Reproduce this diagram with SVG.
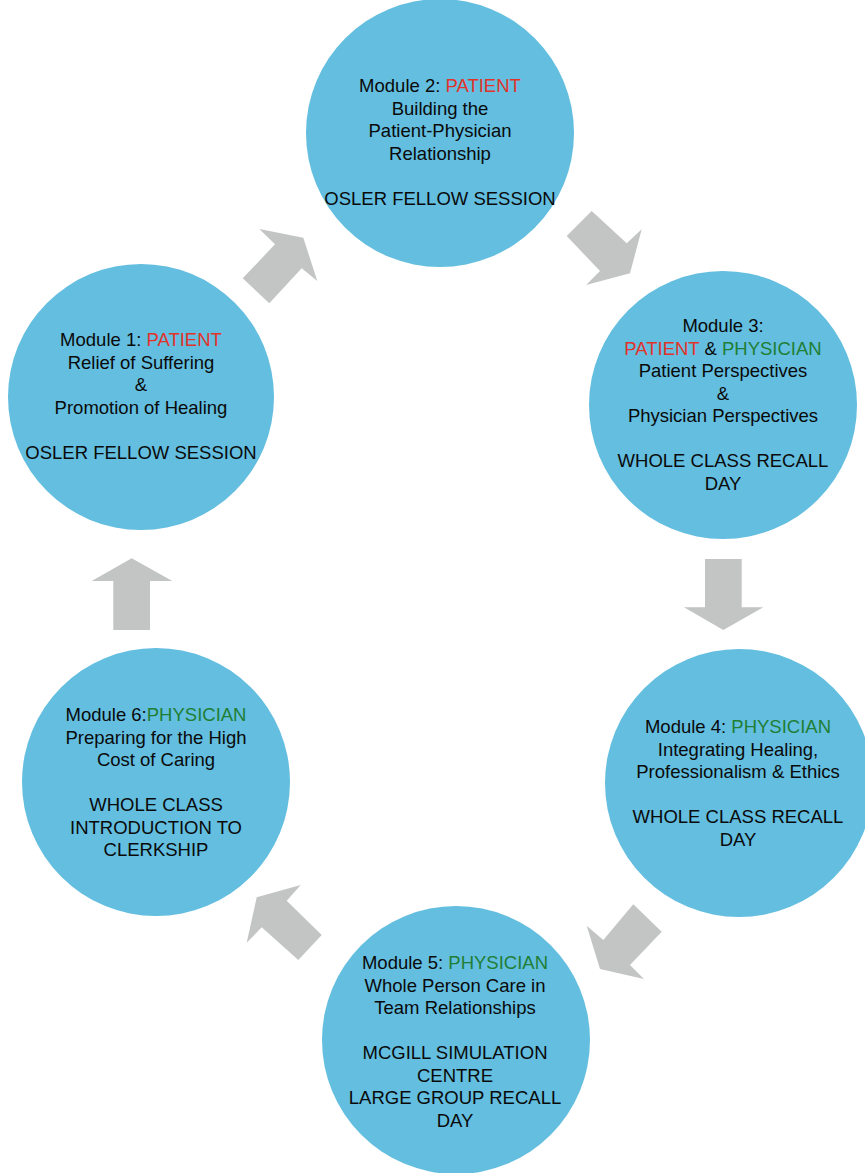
<svg xmlns="http://www.w3.org/2000/svg" width="865" height="1173" viewBox="0 0 865 1173">
  <style>
    .bubble { fill: #63BEE0; }
    .arrow { fill: #C3C4C4; }
    text { font-family: "Liberation Sans", Arial, Helvetica, sans-serif; font-size: 18.5px; fill: #0A0A0A; text-anchor: middle; }
    .patient { fill: #E2332B; }
    .physician { fill: #217E35; }
  </style>
  <rect width="865" height="1173" fill="#FFFFFF"/>

  <!-- cycle arrows -->
  <g id="connectors">
    <polygon class="arrow" points="259.3,229 303.3,237.7 317.3,281 301.7,268.3 269.3,303.3 242.7,278.3 275,244.3"/>
    <polygon class="arrow" points="591.7,211 626.7,243.3 641.7,229.3 630,273.3 586,285 600,271 566.7,236"/>
    <polygon class="arrow" points="705,559 741.7,559 741.7,607.3 763.3,607.3 723.3,630 684,607.3 705,607.3"/>
    <polygon class="arrow" points="633.3,904.3 661.7,931.7 630,965 644,979 600,969 586.7,925.7 603.3,940"/>
    <polygon class="arrow" points="300.7,885 286.7,900.7 321.7,935 298.3,960 261.7,927.3 246.7,942.7 256.7,897.3"/>
    <polygon class="arrow" points="131.7,558.3 172.3,581 150,581 150,630 113.3,630 113.3,581 91.7,581"/>
  </g>

  <g id="module1">
    <circle class="bubble" cx="141" cy="397" r="133"/>
    <text x="141" y="346">Module 1: <tspan class="patient">PATIENT</tspan></text>
    <text x="141" y="368.5">Relief of Suffering</text>
    <text x="141" y="391">&amp;</text>
    <text x="141" y="413.5">Promotion of Healing</text>
    <text x="141" y="458.5">OSLER FELLOW SESSION</text>
  </g>

  <g id="module2">
    <circle class="bubble" cx="440" cy="133" r="134"/>
    <text x="440" y="92">Module 2: <tspan class="patient">PATIENT</tspan></text>
    <text x="440" y="114.5">Building the</text>
    <text x="440" y="137">Patient-Physician</text>
    <text x="440" y="159.5">Relationship</text>
    <text x="440" y="204.5">OSLER FELLOW SESSION</text>
  </g>

  <g id="module3">
    <circle class="bubble" cx="723" cy="405" r="134"/>
    <text x="723" y="332">Module 3:</text>
    <text x="723" y="354.5"><tspan class="patient">PATIENT</tspan> &amp; <tspan class="physician">PHYSICIAN</tspan></text>
    <text x="723" y="377">Patient Perspectives</text>
    <text x="723" y="399.5">&amp;</text>
    <text x="723" y="422">Physician Perspectives</text>
    <text x="723" y="467">WHOLE CLASS RECALL</text>
    <text x="723" y="489.5">DAY</text>
  </g>

  <g id="module4">
    <circle class="bubble" cx="739" cy="783" r="134"/>
    <text x="738" y="733">Module 4: <tspan class="physician">PHYSICIAN</tspan></text>
    <text x="738" y="755.5">Integrating Healing,</text>
    <text x="738" y="778">Professionalism &amp; Ethics</text>
    <text x="738" y="823">WHOLE CLASS RECALL</text>
    <text x="738" y="845.5">DAY</text>
  </g>

  <g id="module5">
    <circle class="bubble" cx="456" cy="1040" r="134"/>
    <text x="455" y="969">Module 5: <tspan class="physician">PHYSICIAN</tspan></text>
    <text x="455" y="991.5">Whole Person Care in</text>
    <text x="455" y="1014">Team Relationships</text>
    <text x="455" y="1059">MCGILL SIMULATION</text>
    <text x="455" y="1081.5">CENTRE</text>
    <text x="455" y="1104">LARGE GROUP RECALL</text>
    <text x="455" y="1126.5">DAY</text>
  </g>

  <g id="module6">
    <circle class="bubble" cx="156" cy="782" r="134"/>
    <text x="156" y="721">Module 6:<tspan class="physician">PHYSICIAN</tspan></text>
    <text x="156" y="743.5">Preparing for the High</text>
    <text x="156" y="766">Cost of Caring</text>
    <text x="156" y="811">WHOLE CLASS</text>
    <text x="156" y="833.5">INTRODUCTION TO</text>
    <text x="156" y="856">CLERKSHIP</text>
  </g>
</svg>
